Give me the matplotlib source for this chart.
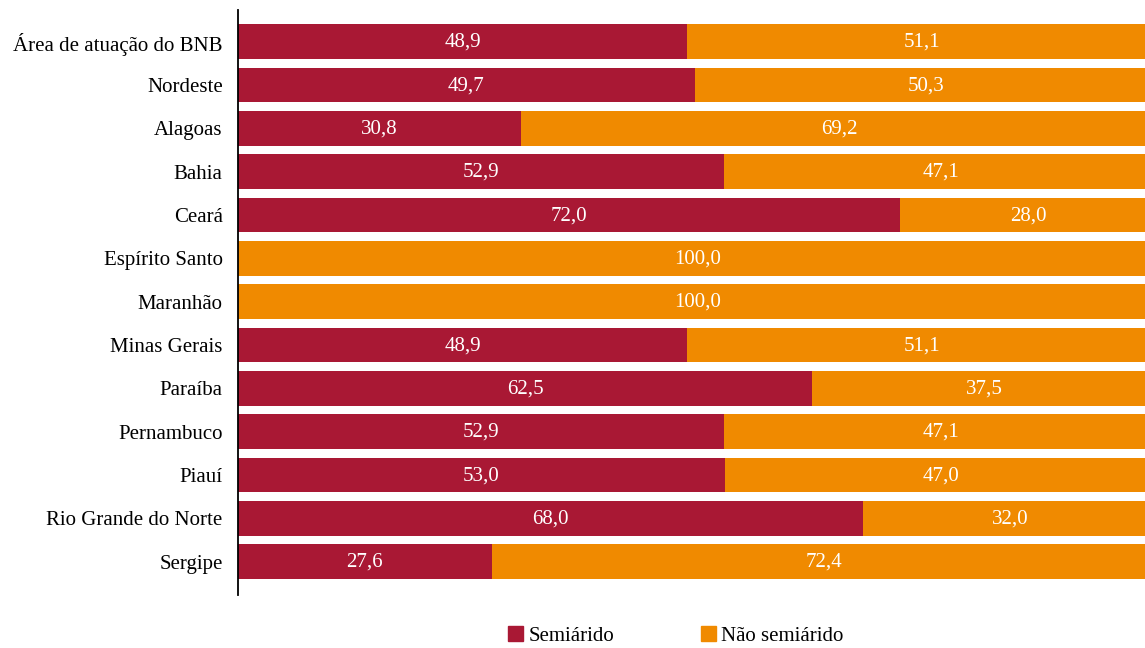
import matplotlib
matplotlib.use("Agg")
import matplotlib.pyplot as plt
from matplotlib.patches import Patch

categories = ["Área de atuação do BNB", "Nordeste", "Alagoas", "Bahia", "Ceará",
              "Espírito Santo", "Maranhão", "Minas Gerais", "Paraíba", "Pernambuco",
              "Piauí", "Rio Grande do Norte", "Sergipe"]
semiarido = [48.9, 49.7, 30.8, 52.9, 72.0, 0.0, 0.0, 48.9, 62.5, 52.9, 53.0, 68.0, 27.6]
nao_semiarido = [51.1, 50.3, 69.2, 47.1, 28.0, 100.0, 100.0, 51.1, 37.5, 47.1, 47.0, 32.0, 72.4]
series_names = ["Semiárido", "Não semiárido"]

RED = "#A91834"
ORANGE = "#F08A00"

plt.rcParams['font.family'] = ['Liberation Serif', 'DejaVu Serif']

fig = plt.figure(figsize=(11.45, 6.48), dpi=100)
ax = fig.add_axes([238/1145, 1-595/648, 1-238/1145, (595-10)/648])

y = list(range(len(categories)))
h = 0.8
ax.barh(y, semiarido, height=h, color=RED)
ax.barh(y, nao_semiarido, left=semiarido, height=h, color=ORANGE)

fs = 15
def fmt(v):
    return f"{v:.1f}".replace(".", ",")
for i in y:
    if semiarido[i] > 0:
        ax.text(semiarido[i]/2, i + 0.02, fmt(semiarido[i]), ha="center", va="center",
                color="white", fontsize=fs)
    if nao_semiarido[i] > 0:
        ax.text(semiarido[i] + nao_semiarido[i]/2, i + 0.02, fmt(nao_semiarido[i]),
                ha="center", va="center", color="white", fontsize=fs)

ax.set_xlim(0, 98.7)
ax.set_ylim(len(categories) - 1 + 0.77, -0.73)
ax.set_yticks(y)
ax.set_yticklabels(categories, fontsize=fs)
ax.tick_params(axis="y", length=0, pad=11)
ax.set_xticks([])
for s in ["top", "right", "bottom"]:
    ax.spines[s].set_visible(False)
ax.spines["left"].set_linewidth(1.3)

handles = [Patch(color=RED), Patch(color=ORANGE)]
fig.legend(handles, series_names, loc="center", bbox_to_anchor=(676/1145, 1-636/648),
           ncol=2, frameon=False, fontsize=fs, handlelength=0.7, handleheight=0.7,
           handletextpad=0.25, columnspacing=4.2)

fig.savefig("out.png", dpi=100)
